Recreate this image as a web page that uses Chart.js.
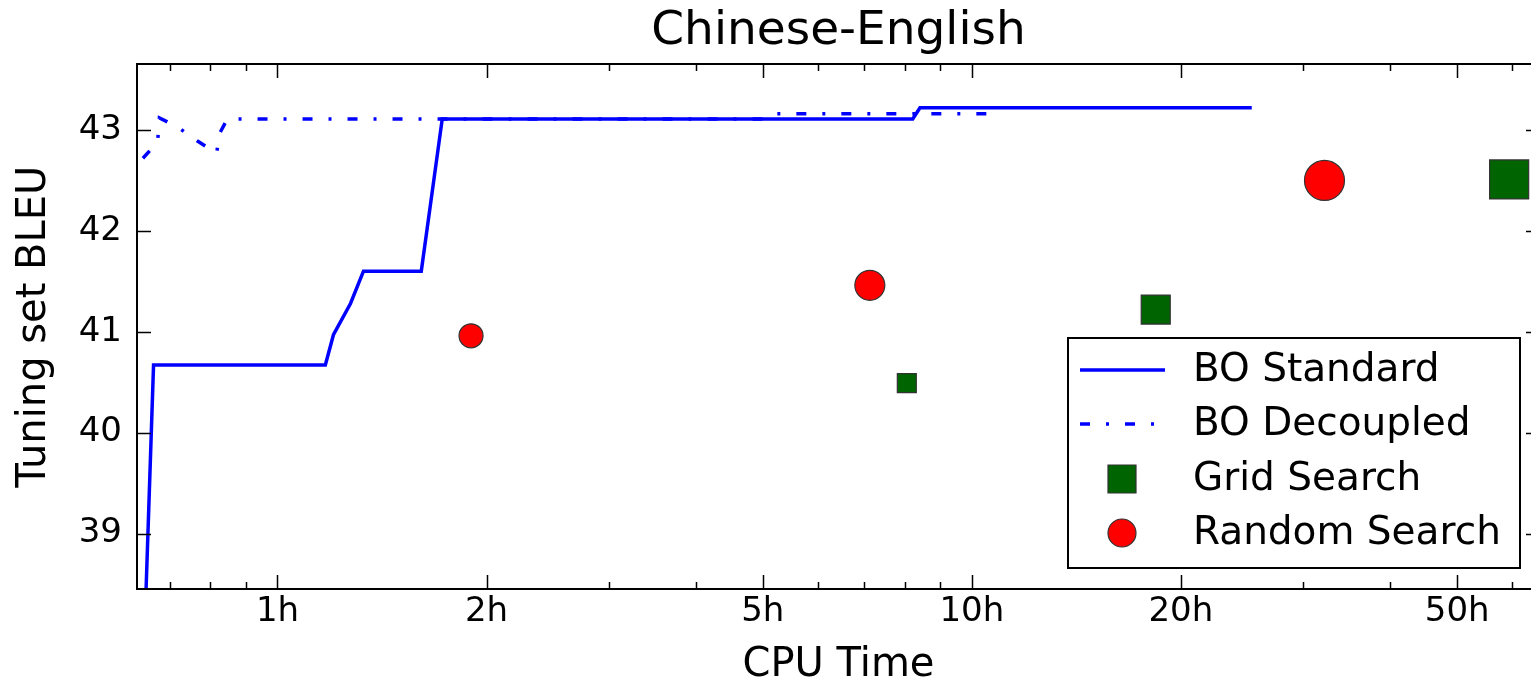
<!DOCTYPE html>
<html>
<head>
<meta charset="utf-8">
<title>Chinese-English</title>
<script src="https://cdn.jsdelivr.net/npm/chart.js@4.4.1/dist/chart.umd.min.js"></script>
<style>
  html, body { margin: 0; padding: 0; overflow: hidden; background: #fff; }
  #c { width: 1531px; height: 687px; display: block; }
</style>
</head>
<body>
<canvas id="c" width="1531" height="687"></canvas>
<script>
// Best tuning-set BLEU reached so far versus CPU time (hours)
const boStandardHours = [0.645, 0.663, 1.172, 1.204, 1.274, 1.330, 1.611, 1.727, 8.22, 8.42, 25.3];
const boStandardBleu  = [38.2, 40.67, 40.67, 40.97, 41.28, 41.60, 41.60, 43.11, 43.11, 43.22, 43.22];

const boDecoupledHours = [0.640, 0.672, 0.676, 0.718, 0.767, 0.817, 0.826, 0.847, 5.00, 5.17, 10.97];
const boDecoupledBleu  = [42.72, 42.88, 43.12, 43.03, 42.89, 42.77, 42.97, 43.11, 43.11, 43.16, 43.16];

const gridHours = [8.06, 18.4, 59.4];
const gridBleu  = [40.49, 41.22, 42.51];

const randomHours = [1.90, 7.13, 32.2];
const randomBleu  = [40.96, 41.46, 42.50];

// Axis ranges and ticks
const xRange = [0.6276, 65.8];
const yRange = [38.45, 43.654];
const xTickHours = [0.7, 0.8, 0.9, 1, 2, 3, 4, 5, 6, 7, 8, 9, 10, 20, 30, 40, 50, 60];
const xTickLabels = { 1: '1h', 2: '2h', 5: '5h', 10: '10h', 20: '20h', 50: '50h' };
const yTicks = [39, 40, 41, 42, 43];

// Marker radii (styling only)
const gridMarkerRadius = [13.4, 20.5, 27.6];
const randomMarkerRadius = [12, 15, 20];

// Plot frame in canvas pixels; the right edge sits just past the canvas
const PLOT = { left: 137, top: 64, right: 1540, bottom: 589 };

const FONT = 'DejaVu Sans';
const BLUE = '#0000ff';
const DASHDOT = [10, 16, 3, 16];

const toXY = (xs, ys) => xs.map((x, i) => ({ x: x, y: ys[i] }));

// Pin the plot area and both axes to fixed pixel bounds
const fixedAreaPlugin = {
  id: 'fixedArea',
  afterLayout(chart) {
    const H = chart.height;
    const ca = chart.chartArea;
    ca.left = PLOT.left; ca.right = PLOT.right; ca.top = PLOT.top; ca.bottom = PLOT.bottom;
    ca.width = PLOT.right - PLOT.left; ca.height = PLOT.bottom - PLOT.top;
    const x = chart.scales.x, y = chart.scales.y;
    x.left = PLOT.left; x.right = PLOT.right; x.width = ca.width;
    x.top = PLOT.bottom; x.bottom = H; x.height = H - PLOT.bottom;
    x.configure();
    y.left = 0; y.right = PLOT.left; y.width = PLOT.left;
    y.top = PLOT.top; y.bottom = PLOT.bottom; y.height = ca.height;
    y.configure();
    const t = chart.titleBlock;
    if (t) {
      t.left = PLOT.left; t.right = PLOT.right; t.width = ca.width;
      t.top = 0; t.bottom = PLOT.top; t.height = PLOT.top;
    }
  }
};

// Inward tick marks on all four spines, plus the frame
const framePlugin = {
  id: 'frame',
  afterDatasetsDraw(chart) {
    const { ctx, chartArea: a, scales } = chart;
    ctx.save();
    ctx.strokeStyle = '#000';
    ctx.lineWidth = 1.5;
    ctx.beginPath();
    xTickHours.forEach(v => {
      const px = Math.round(scales.x.getPixelForValue(v)) + 0.5;
      const len = xTickLabels[v] ? 14 : 7;
      ctx.moveTo(px, a.bottom); ctx.lineTo(px, a.bottom - len);
      ctx.moveTo(px, a.top); ctx.lineTo(px, a.top + len);
    });
    yTicks.forEach(v => {
      const py = Math.round(scales.y.getPixelForValue(v)) + 0.5;
      ctx.moveTo(a.left, py); ctx.lineTo(a.left + 14, py);
      ctx.moveTo(a.right, py); ctx.lineTo(a.right - 14, py);
    });
    ctx.stroke();
    ctx.lineWidth = 2;
    ctx.strokeRect(a.left, a.top, a.right - a.left, a.bottom - a.top);
    ctx.restore();
  }
};

// Boxed legend in the lower right of the plot
const legendPlugin = {
  id: 'boxLegend',
  afterDraw(chart) {
    const { ctx } = chart;
    const bx = 1068, by = 338, bw = 452, bh = 230;
    ctx.save();
    ctx.fillStyle = '#fff';
    ctx.fillRect(bx, by, bw, bh);
    ctx.strokeStyle = '#000';
    ctx.lineWidth = 2;
    ctx.strokeRect(bx, by, bw, bh);
    const rows = [370, 424, 479, 533];
    const sx0 = 1080, sx1 = 1165, sxc = 1122;
    chart.data.datasets.forEach((ds, i) => {
      const y = rows[i];
      if (ds.showLine !== false) {
        ctx.strokeStyle = ds.borderColor;
        ctx.lineWidth = ds.borderWidth;
        ctx.setLineDash(ds.borderDash || []);
        ctx.lineCap = 'butt';
        ctx.beginPath();
        ctx.moveTo(sx0, y); ctx.lineTo(sx1, y);
        ctx.stroke();
        ctx.setLineDash([]);
      } else {
        ctx.fillStyle = ds.backgroundColor;
        ctx.strokeStyle = ds.borderColor;
        ctx.lineWidth = 1.2;
        ctx.beginPath();
        if (ds.pointStyle === 'rect') {
          ctx.rect(sxc - 14, y - 14, 28, 28);
        } else {
          ctx.arc(sxc, y, 14, 0, Math.PI * 2);
        }
        ctx.fill();
        ctx.stroke();
      }
      ctx.fillStyle = '#000';
      ctx.font = '39px "' + FONT + '"';
      ctx.textAlign = 'left';
      ctx.textBaseline = 'middle';
      ctx.fillText(ds.label, 1193, y + 1);
    });
    ctx.restore();
  }
};

new Chart(document.getElementById('c'), {
  type: 'line',
  data: {
    datasets: [
      {
        label: 'BO Standard',
        data: toXY(boStandardHours, boStandardBleu),
        borderColor: BLUE, borderWidth: 3.5, tension: 0,
        pointRadius: 0, fill: false, order: 3
      },
      {
        label: 'BO Decoupled',
        data: toXY(boDecoupledHours, boDecoupledBleu),
        borderColor: BLUE, borderWidth: 3.5, borderDash: DASHDOT, tension: 0,
        pointRadius: 0, fill: false, order: 4
      },
      {
        label: 'Grid Search',
        type: 'scatter',
        showLine: false,
        data: toXY(gridHours, gridBleu),
        pointStyle: 'rect',
        pointRadius: gridMarkerRadius,
        backgroundColor: '#006400', borderColor: '#333333', pointBorderWidth: 1.2,
        order: 1
      },
      {
        label: 'Random Search',
        type: 'scatter',
        showLine: false,
        data: toXY(randomHours, randomBleu),
        pointStyle: 'circle',
        pointRadius: randomMarkerRadius,
        backgroundColor: '#ff0000', borderColor: '#333333', pointBorderWidth: 1.2,
        order: 2
      }
    ]
  },
  options: {
    responsive: false,
    animation: false,
    devicePixelRatio: 1,
    layout: { padding: 0 },
    plugins: {
      legend: { display: false },
      tooltip: { enabled: false },
      title: {
        display: true,
        fullSize: false,
        text: 'Chinese-English',
        color: '#000',
        font: { family: FONT, size: 47, weight: 'normal', lineHeight: 1 },
        padding: { top: 8, bottom: 9 }
      }
    },
    scales: {
      x: {
        type: 'logarithmic',
        bounds: 'data',
        min: xRange[0],
        max: xRange[1],
        grid: { display: false, drawTicks: false },
        border: { display: false },
        afterBuildTicks(s) {
          s.ticks = xTickHours.map(v => ({ value: v }));
          s.min = xRange[0];
          s.max = xRange[1];
        },
        ticks: {
          autoSkip: false, maxRotation: 0, padding: 6, color: '#000',
          font: { family: FONT, size: 34, lineHeight: 1 },
          callback: (v) => xTickLabels[v] || ''
        },
        title: {
          display: true, text: 'CPU Time', color: '#000',
          font: { family: FONT, size: 40, lineHeight: 1 },
          padding: { top: 0, bottom: 1 }
        }
      },
      y: {
        type: 'linear',
        bounds: 'data',
        min: yRange[0],
        max: yRange[1],
        grid: { display: false, drawTicks: false },
        border: { display: false },
        afterBuildTicks(s) {
          s.ticks = yTicks.map(v => ({ value: v }));
          s.min = yRange[0];
          s.max = yRange[1];
        },
        ticks: {
          padding: 15, color: '#000',
          font: { family: FONT, size: 34, lineHeight: 1 },
          callback: (v) => String(v)
        },
        title: {
          display: true, text: 'Tuning set BLEU', color: '#000',
          font: { family: FONT, size: 40, lineHeight: 1 },
          padding: { top: 15, bottom: 0 }
        }
      }
    }
  },
  plugins: [fixedAreaPlugin, framePlugin, legendPlugin]
});
</script>
</body>
</html>
